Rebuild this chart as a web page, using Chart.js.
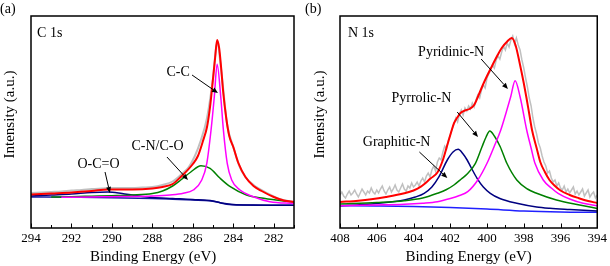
<!DOCTYPE html>
<html><head><meta charset="utf-8">
<script src="https://cdn.jsdelivr.net/npm/chart.js@4/dist/chart.umd.min.js"></script>
<style>
html,body{margin:0;padding:0;background:#fff;}
#wrap{position:relative;width:610px;height:266px;overflow:hidden;}
canvas{position:absolute;top:0;}
</style></head><body>
<div id="wrap">
<canvas id="ca" width="305" height="266" style="left:0;width:305px;height:266px"></canvas>
<canvas id="cb" width="305" height="266" style="left:305px;width:305px;height:266px"></canvas>
</div>
<script>
// ---------- Panel (a): C 1s ----------
const xTicksA = [294, 292, 290, 288, 286, 284, 282];
const eRawA = [294, 293.5, 293, 292.5, 292, 291.5, 291, 290.5, 290, 289.5, 289, 288.5, 288, 287.5, 287, 286.6, 286.2, 285.9, 285.6, 285.3, 285.0, 284.8, 284.6, 284.3, 284.0, 283.7, 283.4, 283.0, 282.6, 282.2, 281.8, 281.4, 281];
const iRawA = [35, 35.5, 36, 36.5, 37.5, 38, 39, 39.5, 40, 40, 40, 40.5, 41, 43, 46.5, 53, 61, 72, 88, 110, 150, 186, 158, 103, 81, 62, 51, 43, 38, 33.5, 29.5, 27.5, 26];
const eEnvA = [294, 293, 292, 291, 290.2, 289, 288, 287.5, 287, 286.6, 286, 285.75, 285.5, 285.3, 285.15, 285.0, 284.9, 284.8, 284.7, 284.6, 284.5, 284.35, 284.2, 284.0, 283.75, 283.4, 283.0, 282.6, 282, 281.5, 281];
const iEnvA = [33.5, 34.5, 35.5, 37, 38.5, 38.5, 39.5, 41, 44, 51, 64, 72, 87, 101, 121, 150, 170, 188, 180, 160, 136, 110, 92, 81, 65, 51, 42, 37, 31, 27.5, 26];
const eCCA = [292.5, 291, 290, 289, 288, 287.13, 286.47, 285.98, 285.56, 285.31, 285.1, 284.94, 284.8, 284.62, 284.49, 284.3, 284.08, 283.67, 283.01, 282.19, 281];
const iCCA = [30.8, 31, 31.3, 31.5, 32, 33, 34.7, 38, 48, 64.7, 98, 131, 163.7, 131, 98, 64.7, 48, 38, 31.3, 26.3, 24.5];
const eCNA = [293, 292, 291, 290, 289, 288, 287.5, 287, 286.6, 286.1, 285.6, 285.15, 284.65, 284.15, 283.35, 282.5, 281.5, 281];
const iCNA = [31, 31.3, 31.8, 32.3, 33, 34.5, 37, 42, 48, 56, 62.3, 59.7, 49.7, 41.3, 33, 29.7, 27, 26];
const eOCOA = [294, 293, 292, 291, 290.2, 289.5, 289, 288.5, 288, 287, 286, 285, 284.5, 284, 283, 282, 281];
const iOCOA = [32, 33, 34, 35.5, 36, 34.5, 33, 31.5, 30.5, 29.5, 28.5, 27, 24.8, 23.5, 23, 22.8, 22.7];
const eBgA = [294, 292, 290, 288, 287, 286, 285.2, 284.8, 284.5, 284.2, 283.5, 282, 281];
const iBgA = [31, 30.7, 30.3, 29.5, 28.8, 28, 27.3, 26, 24.5, 23.5, 23, 22.8, 22.7];

// ---------- Panel (b): N 1s ----------
const xTicksB = [408, 406, 404, 402, 400, 398, 396, 394];
const eRawB = [
  408.0, 407.9, 407.8, 407.7, 407.6, 407.5, 407.4, 407.3, 407.2, 407.1, 407.0, 406.9, 406.8, 406.7, 406.6, 406.5, 406.4, 406.3, 406.2, 406.1, 406.0,
  405.9, 405.8, 405.7, 405.6, 405.5, 405.4, 405.3, 405.2, 405.1, 405.0, 404.9, 404.8, 404.7, 404.6, 404.5, 404.4, 404.3, 404.2, 404.1, 404.0,
  403.9, 403.8, 403.7, 403.6, 403.5, 403.4, 403.3, 403.2, 403.1, 403.0, 402.9, 402.8, 402.7, 402.6, 402.5, 402.4, 402.3, 402.2, 402.1, 402.0,
  401.9, 401.8, 401.7, 401.6, 401.5, 401.4, 401.3, 401.2, 401.1, 401.0, 400.9, 400.8, 400.7, 400.6, 400.5, 400.4, 400.3, 400.2, 400.1, 400.0,
  399.9, 399.8, 399.7, 399.6, 399.5, 399.4, 399.3, 399.2, 399.1, 399.0, 398.9, 398.8, 398.7, 398.6, 398.5, 398.4, 398.3, 398.2, 398.1, 398.0,
  397.9, 397.8, 397.7, 397.6, 397.5, 397.4, 397.3, 397.2, 397.1, 397.0, 396.9, 396.8, 396.7, 396.6, 396.5, 396.4, 396.3, 396.2, 396.1, 396.0,
  395.9, 395.8, 395.7, 395.6, 395.5, 395.4, 395.3, 395.2, 395.1, 395.0, 394.9, 394.8, 394.7, 394.6, 394.5, 394.4, 394.3, 394.2, 394.1, 394.0];
const iRawB = [
  33, 36, 32, 30, 34, 37, 33, 35, 38, 34, 31, 35, 39, 36, 33, 37, 35, 40, 36, 34, 38,
  35, 39, 42, 37, 34, 38, 41, 36, 39, 43, 38, 36, 40, 44, 39, 37, 42, 40, 45, 41,
  43, 46, 42, 47, 50, 46, 52, 55, 51, 58, 62, 57, 66, 70, 68, 76, 82, 79, 88, 93,
  99, 104, 110, 106, 114, 118, 113, 120, 117, 122, 119, 125, 121, 128, 133, 130, 138, 143, 140, 150,
  154, 158, 163, 160, 168, 172, 169, 176, 182, 178, 185, 181, 188, 192, 184, 190, 183, 178, 168, 160,
  150, 141, 130, 122, 110, 101, 94, 85, 80, 72, 66, 62, 55, 57, 50, 46, 48, 42, 45, 40,
  38, 42, 36, 39, 35, 38, 41, 34, 37, 33, 36, 39, 32, 35, 38, 31, 34, 36, 30, 33];
const eEnvB = [408, 407, 406.3, 405.5, 404.5, 404, 403.6, 403.06, 402.7, 402.4, 402.16, 401.95, 401.8, 401.6, 401.44, 401.2, 400.96, 400.7, 400.5, 400.25, 400.0, 399.7, 399.45, 399.2, 398.9, 398.65, 398.45, 398.2, 398.0, 397.85, 397.7, 397.55, 397.3, 397.1, 396.85, 396.6, 396.3, 396.0, 395.5, 395, 394.5, 394];
const iEnvB = [26, 27.3, 28.7, 31, 34.7, 37.5, 41.3, 49.7, 55.5, 68, 83, 96, 104.7, 111, 115, 117.5, 119, 123, 131, 142, 152, 163, 172, 180, 186.5, 190, 183, 163, 145, 130, 114, 98, 80, 66, 56, 48, 42, 37.5, 33, 29.8, 27, 25];
const ePyrdB = [408, 406, 404.5, 403.5, 402.7, 402, 401.5, 401.05, 400.5, 400.0, 399.6, 399.25, 398.95, 398.71, 398.47, 398.2, 397.84, 397.6, 397.39, 396.94, 396.5, 396.13, 395.5, 394.77, 394];
const iPyrdB = [22.3, 23, 23.7, 24.8, 26.3, 29.5, 32.5, 36.3, 48, 64.7, 82, 98, 116, 131.3, 147.3, 131.3, 98, 80, 64.7, 48, 40, 34.7, 29, 24.7, 22.3];
const ePyrrB = [408, 406, 404.5, 403.5, 402.7, 402.2, 401.8, 401.4, 401.08, 400.63, 400.27, 400.05, 399.85, 399.6, 399.28, 398.92, 398.38, 397.8, 397.3, 396.22, 394.96, 394];
const iPyrrB = [24, 25.5, 27.3, 30, 34.7, 38.5, 43, 49, 54, 64.7, 81.3, 91, 97, 92, 81.3, 64.7, 48, 39, 34.7, 28, 23, 19.5];
const eGrapB = [408, 406.3, 405, 404.5, 403.9, 403.42, 403.0, 402.61, 402.16, 401.85, 401.57, 401.3, 401.08, 400.88, 400.54, 400.2, 399.82, 399.3, 398.38, 397.3, 396.58, 395.5, 394];
const iGrapB = [22.3, 24, 26.5, 28, 31, 34.7, 41, 51.3, 68, 76, 78.7, 74, 68, 61, 49.7, 41, 34.7, 29.5, 24.7, 21, 19.7, 18.5, 17];
const eBgB = [408, 406, 404, 402, 400, 398, 396, 394];
const iBgB = [22.3, 22, 21.5, 20.5, 19, 17, 16, 15.7];

const pts = (xs, ys) => xs.map((v, i) => ({x: v, y: ys[i]}));
const serif = '"Liberation Serif", "Times New Roman", serif';

const annot = {
  id: 'annot',
  afterDraw(chart, args, opts) {
    const {ctx, chartArea: ca, scales: {x, y}} = chart;
    ctx.save();
    ctx.strokeStyle = '#000';
    ctx.lineWidth = 1;
    const lo = Math.ceil(Math.min(x.min, x.max)), hi = Math.floor(Math.max(x.min, x.max));
    for (let v = lo; v <= hi; v++) {
      const px = Math.round(x.getPixelForValue(v)) + 0.5;
      const len = v % 2 === 0 ? 4.5 : 3;
      ctx.beginPath(); ctx.moveTo(px, ca.bottom); ctx.lineTo(px, ca.bottom - len); ctx.stroke();
    }
    ctx.lineWidth = 1.5;
    ctx.strokeRect(ca.left, ca.top, ca.right - ca.left, ca.bottom - ca.top);
    ctx.fillStyle = '#000';
    ctx.textBaseline = 'middle';
    ctx.font = '14px ' + serif;
    for (const t of opts.texts) {
      ctx.textAlign = t.align || 'center';
      ctx.fillText(t.text, x.getPixelForValue(t.x), y.getPixelForValue(t.y));
    }
    ctx.lineWidth = 1;
    for (const a of opts.arrows) {
      const x1 = x.getPixelForValue(a.from[0]), y1 = y.getPixelForValue(a.from[1]);
      const x2 = x.getPixelForValue(a.to[0]), y2 = y.getPixelForValue(a.to[1]);
      const ang = Math.atan2(y2 - y1, x2 - x1);
      const hl = 6, hw = 2.5;
      const bx = x2 - hl * Math.cos(ang), by = y2 - hl * Math.sin(ang);
      ctx.beginPath(); ctx.moveTo(x1, y1); ctx.lineTo(bx, by); ctx.stroke();
      ctx.beginPath();
      ctx.moveTo(x2, y2);
      ctx.lineTo(bx + hw * Math.sin(ang), by - hw * Math.cos(ang));
      ctx.lineTo(bx - hw * Math.sin(ang), by + hw * Math.cos(ang));
      ctx.closePath(); ctx.fill();
    }
    ctx.textAlign = 'left';
    ctx.font = '14px ' + serif;
    ctx.fillText(opts.panel, 0, 9);
    ctx.restore();
  }
};

function ds(label, data, color, width, tension) {
  return {label, data, borderColor: color, backgroundColor: color, borderWidth: width,
          pointRadius: 0, fill: false,
          tension: tension === undefined ? 0.4 : tension,
          cubicInterpolationMode: tension === 0 ? 'default' : 'monotone'};
}

function makeChart(id, cfg) {
  return new Chart(document.getElementById(id), {
    type: 'line',
    data: {datasets: cfg.datasets},
    plugins: [annot],
    options: {
      responsive: false, animation: false, devicePixelRatio: 1,
      layout: {padding: {left: 0, right: 11, top: 16, bottom: 0}},
      plugins: {legend: {display: false}, tooltip: {enabled: false}, annot: cfg.annot},
      scales: {
        x: {
          type: 'linear', reverse: true, min: cfg.xmin, max: cfg.xmax,
          grid: {display: false, drawTicks: false}, border: {display: false},
          afterBuildTicks: s => { s.ticks = cfg.ticks.map(v => ({value: v})); },
          afterFit: s => { s.height = 38; },
          ticks: {color: '#000', padding: 3, font: {family: serif, size: 13}, maxRotation: 0,
                  callback: v => String(v)},
          title: {display: true, text: cfg.xtitle, color: '#000', padding: {top: 0, bottom: 0},
                  font: {family: serif, size: 15}}
        },
        y: {
          min: 0, max: 212,
          grid: {display: false, drawTicks: false}, border: {display: false},
          ticks: {display: false},
          afterFit: s => { s.width = cfg.ywidth; },
          title: {display: true, text: '    Intensity (a.u.)', color: '#000',
                  padding: {top: cfg.ytpad, bottom: 0}, font: {family: serif, size: 15}}
        }
      }
    }
  });
}

makeChart('ca', {
  xmin: 281, xmax: 294, ticks: xTicksA, ywidth: 31, ytpad: 1,
  xtitle: 'Binding Energy (eV)     ',
  datasets: [
    ds('Envelope', pts(eEnvA, iEnvA), '#ff0000', 2),
    ds('C-C', pts(eCCA, iCCA), '#ff00ff', 1.5),
    ds('C-N/C-O', pts(eCNA, iCNA), '#008000', 1.5),
    ds('O-C=O', pts(eOCOA, iOCOA), '#000080', 1.5),
    ds('Background', pts(eBgA, iBgA), '#1a1aa0', 1.5),
    ds('Raw', pts(eRawA, iRawA), '#c0c0c0', 2)
  ],
  annot: {
    panel: '(a)',
    texts: [
      {text: 'C 1s', x: 293.7, y: 195, align: 'left'},
      {text: 'C-C', x: 286.73, y: 156},
      {text: 'C-N/C-O', x: 287.75, y: 82},
      {text: 'O-C=O', x: 290.66, y: 64}
    ],
    arrows: [
      {from: [286.04, 153], to: [284.76, 135]},
      {from: [287.28, 71], to: [286.24, 48]},
      {from: [290.34, 56], to: [290.1, 35]}
    ]
  }
});

makeChart('cb', {
  xmin: 394, xmax: 408, ticks: xTicksB, ywidth: 35, ytpad: 6,
  xtitle: 'Binding Energy (eV)',
  datasets: [
    ds('Envelope', pts(eEnvB, iEnvB), '#ff0000', 2),
    ds('Pyridinic-N', pts(ePyrdB, iPyrdB), '#ff00ff', 1.5),
    ds('Pyrrolic-N', pts(ePyrrB, iPyrrB), '#008000', 1.5),
    ds('Graphitic-N', pts(eGrapB, iGrapB), '#000080', 1.5),
    ds('Background', pts(eBgB, iBgB), '#2020ff', 1.5),
    ds('Raw', pts(eRawB, iRawB), '#c0c0c0', 1.5, 0)
  ],
  annot: {
    panel: '(b)',
    texts: [
      {text: 'N 1s', x: 407.57, y: 195, align: 'left'},
      {text: 'Pyridinic-N', x: 401.95, y: 176},
      {text: 'Pyrrolic-N', x: 403.57, y: 130},
      {text: 'Graphitic-N', x: 404.92, y: 86}
    ],
    arrows: [
      {from: [400.32, 169], to: [398.86, 139]},
      {from: [401.62, 116], to: [400.49, 91]},
      {from: [403.68, 76], to: [402.16, 50]}
    ]
  }
});
</script>
</body></html>
